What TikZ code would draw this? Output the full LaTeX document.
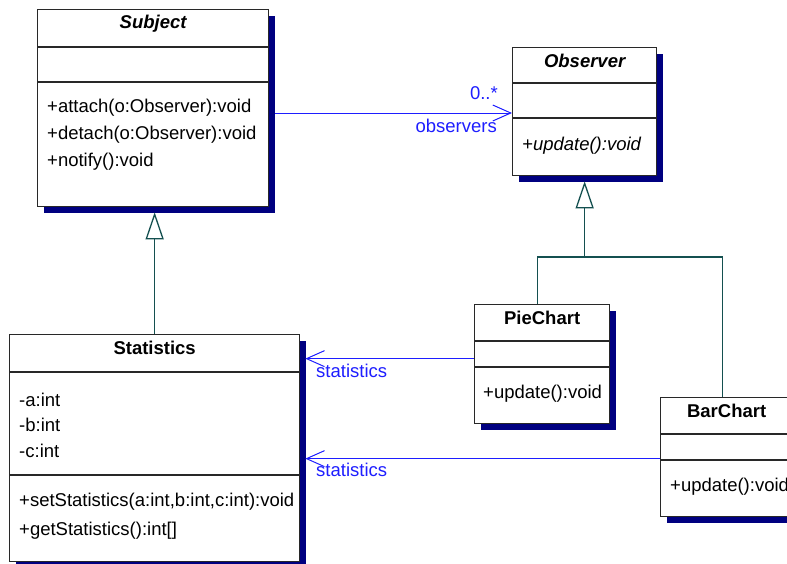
\documentclass[tikz,border=0pt]{standalone}
\usepackage{fontspec}
\setmainfont{Liberation Sans}
\usetikzlibrary{arrows.meta,shadows,calc}
\definecolor{shadownavy}{RGB}{0,0,128}
\definecolor{assoc}{RGB}{30,30,255}
\definecolor{genline}{RGB}{20,80,80}
\definecolor{border}{RGB}{40,40,40}
\begin{document}
\begin{tikzpicture}[x=1pt,y=-1pt,
  cls/.style={draw=border, line width=1.3pt, fill=white, inner sep=0pt, anchor=north west,
    general shadow={fill=shadownavy, shadow xshift=6pt, shadow yshift=-6pt}},
  divider/.style={draw=border, line width=1.3pt},
  txt/.style={inner sep=0pt, anchor=west, font=\fontsize{18.5}{22}\selectfont},
  ttl/.style={inner sep=0pt, anchor=center, font=\fontsize{18.5}{22}\selectfont\bfseries},
  ittl/.style={inner sep=0pt, anchor=center, font=\fontsize{18.5}{22}\selectfont\bfseries\itshape},
  lbl/.style={inner sep=0pt, text=assoc, font=\fontsize{18.5}{22}\selectfont},
  assocline/.style={draw=assoc, line width=1pt, -{Straight Barb[length=18pt,width=16pt,line width=1pt]}},
  genl/.style={draw=genline, line width=1.3pt},
  genarrow/.style={genl, -{Triangle[open,length=27pt,width=18pt,line width=1.3pt]}}
]
\useasboundingbox (0,0) rectangle (787,563);
\fill[white] (0,0) rectangle (787,563);

% Subject
\node[cls, minimum width=231pt, minimum height=197pt] (subject) at (37,9) {};
\draw[divider] (subject.west |- 0,47) -- (subject.east |- 0,47);
\draw[divider] (subject.west |- 0,82) -- (subject.east |- 0,82);
\node[ittl] (subjectT) at (subject.north |- 0,24) {Subject};
\node[txt] (sm1) at (47,108) {+attach(o:Observer):void};
\node[txt] (sm2) at (47,135) {+detach(o:Observer):void};
\node[txt] (sm3) at (47,162) {+notify():void};

% Observer
\node[cls, minimum width=144pt, minimum height=128pt] (observer) at (512,47) {};
\draw[divider] (observer.west |- 0,83) -- (observer.east |- 0,83);
\draw[divider] (observer.west |- 0,118) -- (observer.east |- 0,118);
\node[ittl] (observerT) at (observer.north |- 0,61) {Observer};
\node[txt, font=\fontsize{18.5}{22}\selectfont\itshape] (om1) at (522,146) {+update():void};

% Statistics
\node[cls, minimum width=290pt, minimum height=227pt] (statistics) at (9,334) {};
\draw[divider] (statistics.west |- 0,372) -- (statistics.east |- 0,372);
\draw[divider] (statistics.west |- 0,475) -- (statistics.east |- 0,475);
\node[ttl] (statisticsT) at (statistics.north |- 0,348) {Statistics};
\node[txt] (sa1) at (19,400) {-a:int};
\node[txt] (sa2) at (19,425) {-b:int};
\node[txt] (sa3) at (19,451) {-c:int};
\node[txt] (st1) at (19,502) {+setStatistics(a:int,b:int,c:int):void};
\node[txt] (st2) at (19,531) {+getStatistics():int[]};

% PieChart
\node[cls, minimum width=135pt, minimum height=119pt] (pie) at (474,304) {};
\draw[divider] (pie.west |- 0,341) -- (pie.east |- 0,341);
\draw[divider] (pie.west |- 0,367) -- (pie.east |- 0,367);
\node[ttl] (pieT) at (pie.north |- 0,318) {PieChart};
\node[txt] (pm1) at (483,394) {+update():void};

% BarChart
\node[cls, minimum width=132pt, minimum height=119pt] (bar) at (660,397) {};
\draw[divider] (bar.west |- 0,434) -- (bar.east |- 0,434);
\draw[divider] (bar.west |- 0,460) -- (bar.east |- 0,460);
\node[ttl] (barT) at (bar.north |- 0,411) {BarChart};
\node[txt] (bm1) at (670,487) {+update():void};

% helper coordinates
\coordinate (subjR) at ([xshift=6pt]subject.east);
\coordinate (subjB) at ([yshift=-5pt]subject.south);
\coordinate (obsB) at ([yshift=-5pt]observer.south);
\coordinate (statR) at ([xshift=5pt]statistics.east);
\coordinate (pieL) at ([yshift=5.5pt]pie.west);
\coordinate (barL) at ([yshift=-1.5pt]bar.west);
\coordinate (pieTop) at ([xshift=-5pt]pie.north);
\coordinate (barTop) at ([xshift=-4.5pt]bar.north);
\coordinate (jn) at (observer.south |- 0,257);

% Subject -> Observer association
\draw[assocline] (subjR |- 0,113) -- (observer.west |- 0,113);
\node[lbl, anchor=east] (mult) at (498,93) {0..*};
\node[lbl, anchor=east] (role) at (497,126) {observers};

% Pie/Bar -> Statistics associations
\draw[assocline] (pieL) -- (statR |- pieL);
\node[lbl, anchor=west] (pieRole) at (316,371) {statistics};
\draw[assocline] (barL) -- (statR |- barL);
\node[lbl, anchor=west] (barRole) at (316,470) {statistics};

% Generalizations
\draw[genarrow] (statistics.north) -- (statistics.north |- subjB);
\draw[genl] (pieTop) |- (jn);
\draw[genl] (barTop) |- (jn);
\draw[genarrow] (jn) -- (obsB);
\end{tikzpicture}
\end{document}
